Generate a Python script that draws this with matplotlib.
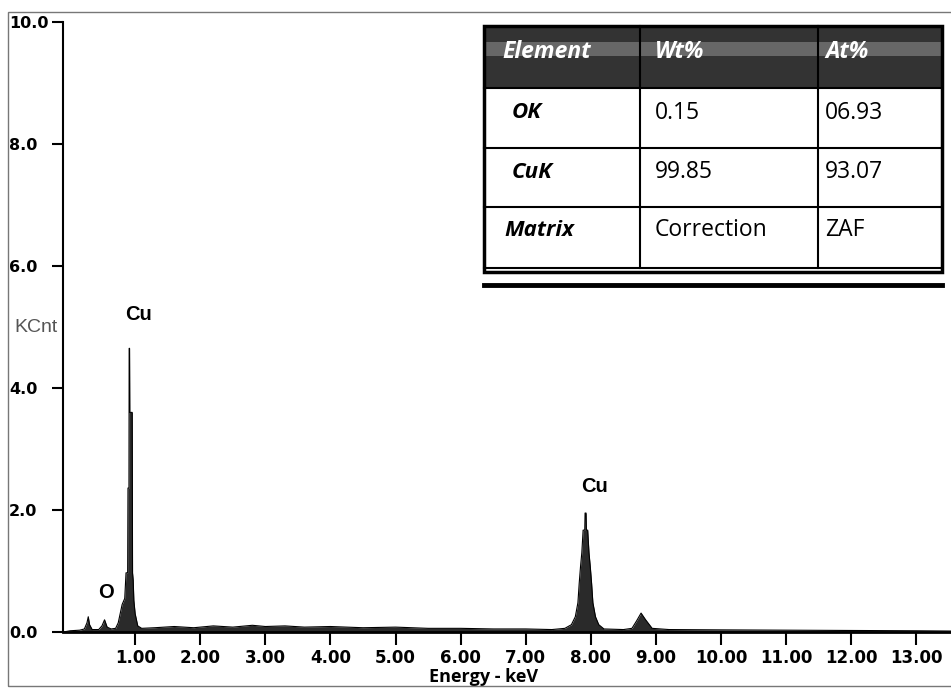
import matplotlib
matplotlib.use("Agg")
import matplotlib.pyplot as plt
from matplotlib.patches import Rectangle

# spectrum (keV, KCnt)
energy = [-0.10, 0.00, 0.15, 0.22, 0.26, 0.28, 0.30, 0.34, 0.44, 0.49, 0.53, 0.57,
          0.63, 0.70, 0.74, 0.80, 0.84, 0.86, 0.885, 0.89, 0.905, 0.908, 0.914,
          0.918, 0.955, 0.960, 0.97, 0.98, 1.00, 1.04, 1.10, 1.30, 1.60, 1.90,
          2.20, 2.50, 2.80, 3.00, 3.30, 3.60, 4.00, 4.50, 5.00, 5.50, 6.00, 6.50,
          7.00, 7.40, 7.60, 7.70, 7.76, 7.80, 7.82, 7.84, 7.86, 7.88, 7.905, 7.91,
          7.925, 7.93, 7.95, 7.97, 7.99, 8.01, 8.03, 8.07, 8.12, 8.20, 8.50, 8.63,
          8.70, 8.77, 8.84, 8.94, 9.20, 10.0, 11.0, 12.0, 13.0, 13.6]
counts = [0.00, 0.02, 0.03, 0.05, 0.15, 0.25, 0.12, 0.04, 0.04, 0.10, 0.20, 0.08,
          0.05, 0.06, 0.15, 0.45, 0.55, 0.97, 0.97, 2.36, 2.36, 4.65, 4.65,
          3.60, 3.60, 0.97, 0.85, 0.52, 0.30, 0.10, 0.06, 0.07, 0.09, 0.07,
          0.10, 0.08, 0.11, 0.09, 0.10, 0.08, 0.09, 0.07, 0.08, 0.06, 0.06, 0.05,
          0.05, 0.04, 0.06, 0.12, 0.25, 0.48, 0.80, 1.07, 1.30, 1.67, 1.67, 1.95,
          1.95, 1.67, 1.67, 1.30, 1.07, 0.80, 0.48, 0.25, 0.12, 0.05, 0.04, 0.06,
          0.18, 0.31, 0.20, 0.06, 0.04, 0.035, 0.03, 0.025, 0.02, 0.015]

peak_labels = ["O", "Cu", "Cu"]
peak_pos = [(0.55, 0.65), (1.05, 5.2), (8.05, 2.38)]

x_ticks = [1, 2, 3, 4, 5, 6, 7, 8, 9, 10, 11, 12, 13]
y_ticks = [0, 2, 4, 6, 8, 10]

# quantification table
tbl_header = ["Element", "Wt%", "At%"]
tbl_rows = [["OK", "0.15", "06.93"],
            ["CuK", "99.85", "93.07"],
            ["Matrix", "Correction", "ZAF"]]

W, H = 951, 689
fig = plt.figure(figsize=(W / 100, H / 100), dpi=100)

# outer grey frame of the screenshot
fig.patches.append(Rectangle((8 / W, 3 / H), 1.2, (H - 15) / H, transform=fig.transFigure,
                             fill=False, ec="#777777", lw=1.0))

ax = fig.add_axes([63 / W, (H - 632) / H, 1 - 63 / W, 610 / H])
ax.fill_between(energy, counts, color="#2a2a2a", lw=0)
ax.plot(energy, counts, color="black", lw=0.8)
ax.set_xlim(-0.108, 13.53)
ax.set_ylim(0, 10)

for s in ["top", "right"]:
    ax.spines[s].set_visible(False)
ax.spines["left"].set_linewidth(1.5)
ax.spines["bottom"].set_linewidth(2.0)

ax.set_xticks(x_ticks)
ax.set_xticklabels(["%.2f" % v for v in x_ticks],
                   fontdict=dict(family=["Liberation Sans Narrow", "DejaVu Sans"],
                                 weight="bold", size=12))
ax.set_yticks(y_ticks)
ax.set_yticklabels(["%.1f" % v for v in y_ticks],
                   fontdict=dict(family="DejaVu Sans", weight="bold", size=11.5))
ax.tick_params(axis="x", direction="out", length=9, width=1.5, pad=3)
ax.tick_params(axis="y", direction="out", length=8, width=1.5, pad=31)
for lab in ax.get_yticklabels():
    lab.set_horizontalalignment("left")

ax.text(-0.52, 5.0, "KCnt", color="#555555", fontsize=14, family="Liberation Sans",
        ha="center", va="center")
ax.text(6.35, -0.74, "Energy - keV", fontsize=13, weight="bold", family="Open Sans",
        ha="center", va="center")

for lab, (px, py) in zip(peak_labels, peak_pos):
    ax.text(px, py, lab, fontsize=14.5, weight="bold", family="Liberation Sans",
            ha="center", va="center")

# table drawn in pixel coordinates
tax = fig.add_axes([0, 0, 1, 1], facecolor="none")
tax.set_xlim(0, W)
tax.set_ylim(H, 0)
tax.axis("off")

x0, x1, x2, x3 = 484, 640, 818, 942
rows_y = [26, 88, 148, 207, 268]
tax.add_patch(Rectangle((x0, 22), x3 - x0, 252, fc="white", ec="none"))
tax.add_patch(Rectangle((x0, rows_y[0]), x3 - x0, rows_y[1] - rows_y[0],
                        fc="#333333", ec="none"))
tax.add_patch(Rectangle((x0, 42), x3 - x0, 14, fc="#8a8a8a", ec="none", alpha=0.6))
tax.add_patch(Rectangle((x0, rows_y[0]), x3 - x0, 272 - rows_y[0],
                        fill=False, ec="black", lw=2.5))
for y in rows_y[1:]:
    tax.plot([x0, x3], [y, y], color="black", lw=1.5)
for x in [x1, x2]:
    tax.plot([x, x], [rows_y[0], rows_y[-1]], color="black", lw=1.5)
tax.plot([x0, x3], [285, 285], color="black", lw=3.5)

col_x = [502, 655, 825]
for cx, txt in zip(col_x, tbl_header):
    tax.text(cx, 52, txt, color="white", fontsize=16.5, weight="bold", style="italic",
             family="Open Sans", ha="left", va="center")
for r, row in enumerate(tbl_rows):
    cy = [113, 172, 230][r]
    for c, txt in enumerate(row):
        if c == 0:
            tax.text(512 if r < 2 else 504, cy, txt, fontsize=16, weight="bold",
                     style="italic", family="Open Sans", ha="left", va="center")
        else:
            tax.text(col_x[c], cy, txt, fontsize=16.5, family="Open Sans",
                     ha="left", va="center")

fig.savefig("out.png", dpi=100)
